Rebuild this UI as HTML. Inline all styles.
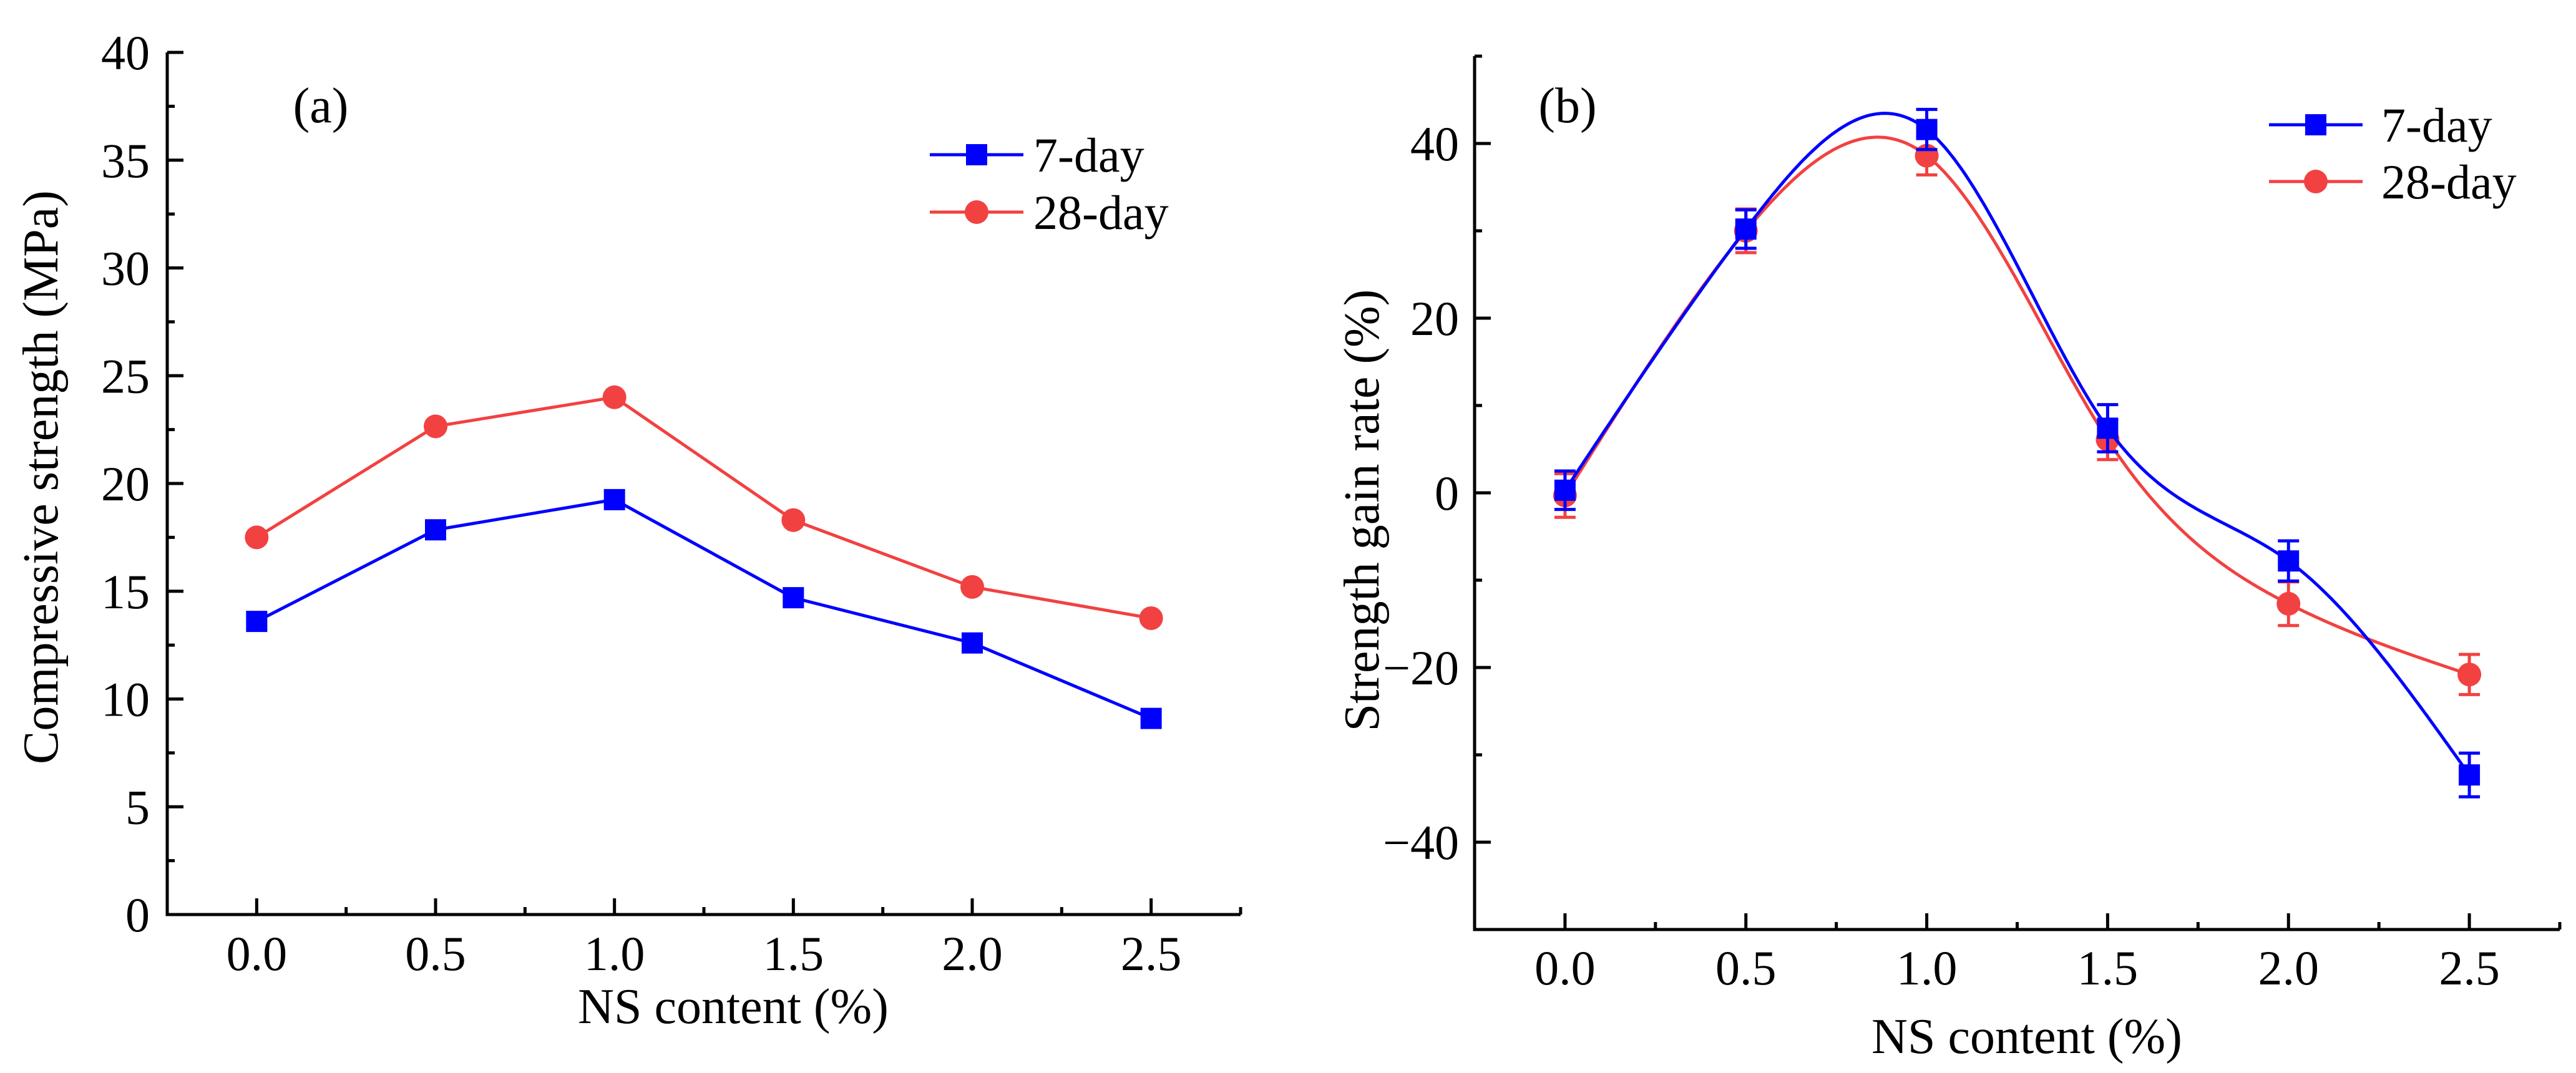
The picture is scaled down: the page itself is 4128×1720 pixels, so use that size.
<!DOCTYPE html>
<html><head><meta charset="utf-8"><style>
html,body{margin:0;padding:0;background:#fff;}
svg{display:block;font-family:"Liberation Serif","Times New Roman",serif;}
</style></head><body>
<svg id="chart" width="4128" height="1720" viewBox="0 0 4128 1720" xmlns="http://www.w3.org/2000/svg">
<g id="pa"></g>
<g id="pb"></g>
</svg>
<script>
const categories = [0.0, 0.5, 1.0, 1.5, 2.0, 2.5];
const strength7 = [13.6, 17.85, 19.25, 14.7, 12.6, 9.1];
const strength28 = [17.5, 22.65, 24.0, 18.3, 15.2, 13.75];
const gain7 = [0.3, 30.2, 41.6, 7.4, -7.8, -32.3];
const gain28 = [-0.3, 30.0, 38.6, 6.1, -12.7, -20.8];
const gainErr7 = [2.2, 2.2, 2.3, 2.7, 2.3, 2.5];
const gainErr28 = [2.5, 2.5, 2.2, 2.3, 2.5, 2.3];
const xTickLabels = ["0.0", "0.5", "1.0", "1.5", "2.0", "2.5"];
const yTicksA = ["0", "5", "10", "15", "20", "25", "30", "35", "40"];
const yTicksB = ["\u221240", "\u221220", "0", "20", "40"];
const seriesNames = ["7-day", "28-day"];

const NS = "http://www.w3.org/2000/svg";
const BLUE = "#0000ff", RED = "#f24141";
const FS = 78;
function mk(parent, tag, attrs, text) {
  const e = document.createElementNS(NS, tag);
  for (const k in attrs) e.setAttribute(k, attrs[k]);
  if (text !== undefined) e.textContent = text;
  parent.appendChild(e);
  return e;
}

function spline(xs, ys) {
  const n = xs.length, h = [], al = [], l = [1], mu = [0], z = [0], c = new Array(n).fill(0), b = [], d = [];
  for (let i = 0; i < n - 1; i++) h.push(xs[i+1] - xs[i]);
  for (let i = 1; i < n - 1; i++) al[i] = 3/h[i]*(ys[i+1]-ys[i]) - 3/h[i-1]*(ys[i]-ys[i-1]);
  for (let i = 1; i < n - 1; i++) {
    l[i] = 2*(xs[i+1]-xs[i-1]) - h[i-1]*mu[i-1];
    mu[i] = h[i]/l[i];
    z[i] = (al[i] - h[i-1]*z[i-1])/l[i];
  }
  z[n-1] = 0;
  for (let j = n - 2; j >= 0; j--) {
    c[j] = z[j] - mu[j]*c[j+1];
    b[j] = (ys[j+1]-ys[j])/h[j] - h[j]*(c[j+1]+2*c[j])/3;
    d[j] = (c[j+1]-c[j])/(3*h[j]);
  }
  return function(x) {
    let j = 0;
    while (j < n - 2 && x > xs[j+1]) j++;
    const t = x - xs[j];
    return ys[j] + b[j]*t + c[j]*t*t + d[j]*t*t*t;
  };
}

function drawAxes(g, cfg) {
  const {x0, x1, y0, y1, sx, sy} = cfg;
  mk(g, "path", {d: `M${x0} ${y1} L${x0} ${y0} L${x1} ${y0}`, fill: "none", stroke: "#000", "stroke-width": 5,  });
  for (let v = cfg.xmin + 0.25; v <= cfg.xmax + 1e-9; v += 0.25) {
    const major = Math.abs(v*2 - Math.round(v*2)) < 1e-6;
    const px = sx(v);
    const t = mk(g, "line", {x1: px, x2: px, y1: y0, y2: y0 - (major ? 26 : 12), stroke: "#000", "stroke-width": 5});
    
    
  }
  categories.forEach((c, i) => {
    const t = mk(g, "text", {x: sx(c), y: cfg.xLabY, "font-size": FS, "text-anchor": "middle"}, xTickLabels[i]);
    
    
  });
  for (let v = cfg.ymin; v <= cfg.ymax + 1e-9; v += cfg.minorStep) {
    const major = Math.abs(v/cfg.majorStep - Math.round(v/cfg.majorStep)) < 1e-6;
    const py = sy(v);
    const t = mk(g, "line", {x1: x0, x2: x0 + (major ? 26 : 12), y1: py, y2: py, stroke: "#000", "stroke-width": 5});
    
    
  }
  cfg.yLabels.forEach(lbl => {
    const v = parseFloat(lbl.replace("\u2212", "-"));
    const t = mk(g, "text", {x: cfg.yLabX, y: sy(v) + 27, "font-size": FS, "text-anchor": "end"}, lbl);
    
    
  });
  const xt = mk(g, "text", {x: cfg.xTitleX, y: cfg.xTitleY, "font-size": 80, "text-anchor": "middle"}, "NS content (%)");
  
  
  const yt = mk(g, "text", {x: 0, y: 0, "font-size": 80, "text-anchor": "middle", transform: `translate(${cfg.yTitleX},${cfg.yTitleY}) rotate(-90)`}, cfg.yTitle);
  
  
  const pl = mk(g, "text", {x: cfg.panelX, y: 196, "font-size": 80, "text-anchor": "middle"}, cfg.panelLabel);
  
  
}

function marker(g, kind, x, y, color) {
  let m;
  if (kind === "sq") m = mk(g, "rect", {x: x - 17, y: y - 17, width: 34, height: 34, fill: color});
  else m = mk(g, "circle", {cx: x, cy: y, r: 19, fill: color});
  return m;
}

function legend(g, lx, ly, gap, textX) {
  [[BLUE, "sq"], [RED, "ci"]].forEach(([col, kind], i) => {
    const y = ly + i * gap;
    const e = mk(g, "g", {});
    
    
    mk(e, "line", {x1: lx, x2: lx + 150, y1: y, y2: y, stroke: col, "stroke-width": 5});
    marker(e, kind, lx + 75, y, col);
    mk(e, "text", {x: textX, y: y + 27, "font-size": FS}, seriesNames[i]);
  });
}

// Panel A
(function() {
  const g = document.getElementById("pa");
  const x0 = 268, x1 = 1988, y0 = 1466, y1 = 84;
  const xmin = -0.25, xmax = 2.75, ymin = 0, ymax = 40;
  const sx = v => x0 + (v - xmin) / (xmax - xmin) * (x1 - x0);
  const sy = v => y0 - (v - ymin) / (ymax - ymin) * (y0 - y1);
  drawAxes(g, {x0, x1, y0, y1, sx, sy, xmin, xmax, ymin, ymax, minorStep: 2.5, majorStep: 5,
    yLabels: yTicksA, yLabX: 240, xLabY: 1555, xTitleX: 1175, xTitleY: 1640,
    yTitle: "Compressive strength (MPa)", yTitleX: 92, yTitleY: 765, panelX: 514, panelLabel: "(a)"});
  [[strength7, BLUE, "sq", "series-7-day"], [strength28, RED, "ci", "series-28-day"]].forEach(([vals, col, kind, name]) => {
    const s = mk(g, "g", {});
    
    
    const pts = categories.map((c, i) => `${sx(c)},${sy(vals[i])}`).join(" ");
    mk(s, "polyline", {points: pts, fill: "none", stroke: col, "stroke-width": 5});
    categories.forEach((c, i) => {
      const m = marker(s, kind, sx(c), sy(vals[i]), col);
      
      
    });
  });
  legend(g, 1490, 248, 92, 1656);
})();

// Panel B
(function() {
  const g = document.getElementById("pb");
  const x0 = 2363, x1 = 4102, y0 = 1490, y1 = 90;
  const xmin = -0.25, xmax = 2.75, ymin = -50, ymax = 50;
  const sx = v => x0 + (v - xmin) / (xmax - xmin) * (x1 - x0);
  const sy = v => y0 - (v - ymin) / (ymax - ymin) * (y0 - y1);
  drawAxes(g, {x0, x1, y0, y1, sx, sy, xmin, xmax, ymin, ymax, minorStep: 10, majorStep: 20,
    yLabels: yTicksB, yLabX: 2338, xLabY: 1578, xTitleX: 3248, xTitleY: 1688,
    yTitle: "Strength gain rate (%)", yTitleX: 2209, yTitleY: 818, panelX: 2512, panelLabel: "(b)"});
  [[gain28, gainErr28, RED, "ci", "series-28-day"], [gain7, gainErr7, BLUE, "sq", "series-7-day"]].forEach(([vals, errs, col, kind, name]) => {
    const s = mk(g, "g", {});
    
    
    const f = spline(categories, vals);
    let d = "";
    const a = categories[0], b = categories[categories.length - 1];
    for (let k = 0; k <= 300; k++) {
      const x = a + (b - a) * k / 300;
      d += (k ? "L" : "M") + sx(x).toFixed(1) + " " + sy(f(x)).toFixed(1);
    }
    mk(s, "path", {d, fill: "none", stroke: col, "stroke-width": 5});
    categories.forEach((c, i) => {
      const px = sx(c), top = sy(vals[i] + errs[i]), bot = sy(vals[i] - errs[i]);
      const eb = mk(s, "path", {d: `M${px - 17} ${top} H${px + 17} M${px} ${top} V${bot} M${px - 17} ${bot} H${px + 17}`, stroke: col, "stroke-width": 5, fill: "none"});
      
      
      const m = marker(s, kind, px, sy(vals[i]), col);
      
      
    });
  });
  legend(g, 3636, 200, 91, 3816);
})();
</script>
</body></html>
